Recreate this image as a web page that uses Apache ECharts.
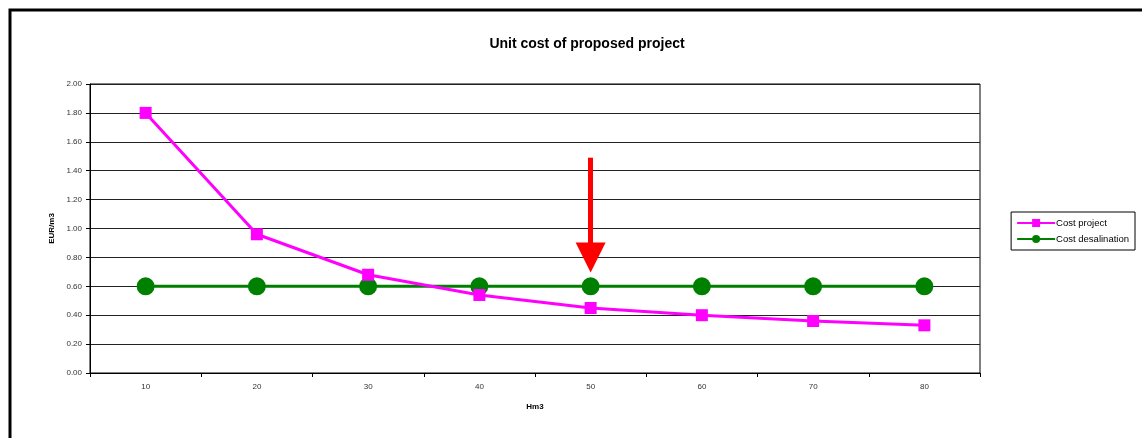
<!DOCTYPE html>
<html><head><meta charset="utf-8">
<script src="https://cdn.jsdelivr.net/npm/echarts@6/dist/echarts.min.js"></script>
<style>html,body{margin:0;padding:0;background:#fff}#c{width:1142px;height:438px}</style>
</head><body><div id="c"></div>
<script>
const categories = ['10','20','30','40','50','60','70','80'];
const costProject = [1.80, 0.96, 0.68, 0.54, 0.45, 0.40, 0.36, 0.33];
const costDesalination = [0.60, 0.60, 0.60, 0.60, 0.60, 0.60, 0.60, 0.60];
const arrowFrom = ['50', 1.49];
const arrowTo = ['50', 0.80];

const chart = echarts.init(document.getElementById('c'));
chart.setOption({
  animation: false,
  backgroundColor: '#fff',
  title: {
    text: 'Unit cost of proposed project', left: 582, top: 32, textAlign: 'center',
    textStyle: { fontFamily: 'Liberation Sans, Arial', fontSize: 14, fontWeight: 'bold', color: '#000' }
  },
  graphic: [{
    type: 'rect', shape: { x: 10, y: 10, width: 1160, height: 460 },
    style: { fill: 'none', stroke: '#000', lineWidth: 3 }, z: 0
  }],
  legend: {
    right: 7, top: 212, orient: 'vertical', itemGap: 6,
    padding: [6, 6, 6, 5], borderColor: '#000', borderWidth: 1,
    itemWidth: 38, itemHeight: 10,
    textStyle: { fontFamily: 'Liberation Sans, Arial', fontSize: 9.5, color: '#000', padding: [0, 0, 0, -4] },
    data: ['Cost project', 'Cost desalination']
  },
  grid: { left: 90, right: 162, top: 84, bottom: 65, show: true, borderColor: '#000', borderWidth: 1 },
  xAxis: {
    type: 'category', data: categories, boundaryGap: true,
    name: 'Hm3', nameLocation: 'middle', nameGap: 30,
    nameTextStyle: { fontFamily: 'Liberation Sans, Arial', fontSize: 8, fontWeight: 'bold', color: '#000' },
    axisLine: { lineStyle: { color: '#000', width: 1 } },
    axisTick: { show: true, length: 4, inside: false, lineStyle: { color: '#000' } },
    axisLabel: { fontFamily: 'Liberation Sans, Arial', fontSize: 8, color: '#333', margin: 10 },
    splitLine: { show: false }
  },
  yAxis: {
    type: 'value', min: 0, max: 2, interval: 0.2,
    name: 'EUR/m3', nameLocation: 'middle', nameGap: 27, nameRotate: 90,
    nameTextStyle: { fontFamily: 'Liberation Sans, Arial', fontSize: 8, fontWeight: 'bold', color: '#000' },
    axisLine: { show: true, lineStyle: { color: '#000', width: 1 } },
    axisTick: { show: true, length: 4, lineStyle: { color: '#000' } },
    axisLabel: { fontFamily: 'Liberation Sans, Arial', fontSize: 8, color: '#333', margin: 8, formatter: v => v.toFixed(2) },
    splitLine: { show: true, lineStyle: { color: '#222', width: 1 } }
  },
  series: [
    {
      name: 'Cost project', type: 'line', data: costProject,
      symbol: 'rect', symbolSize: 12,
      lineStyle: { color: '#FF00FF', width: 3 },
      itemStyle: { color: '#FF00FF' }, z: 3,
      markLine: {
        silent: true, symbol: ['none', 'triangle'], symbolSize: [30, 30],
        label: { show: false }, z: 5,
        lineStyle: { color: '#FF0000', width: 5, type: 'solid' },
        data: [[{ coord: arrowFrom }, { coord: arrowTo }]]
      }
    },
    {
      name: 'Cost desalination', type: 'line', data: costDesalination,
      symbol: 'circle', symbolSize: 18,
      lineStyle: { color: '#008000', width: 3 },
      itemStyle: { color: '#008000' }, z: 2
    }
  ]
});
</script></body></html>
